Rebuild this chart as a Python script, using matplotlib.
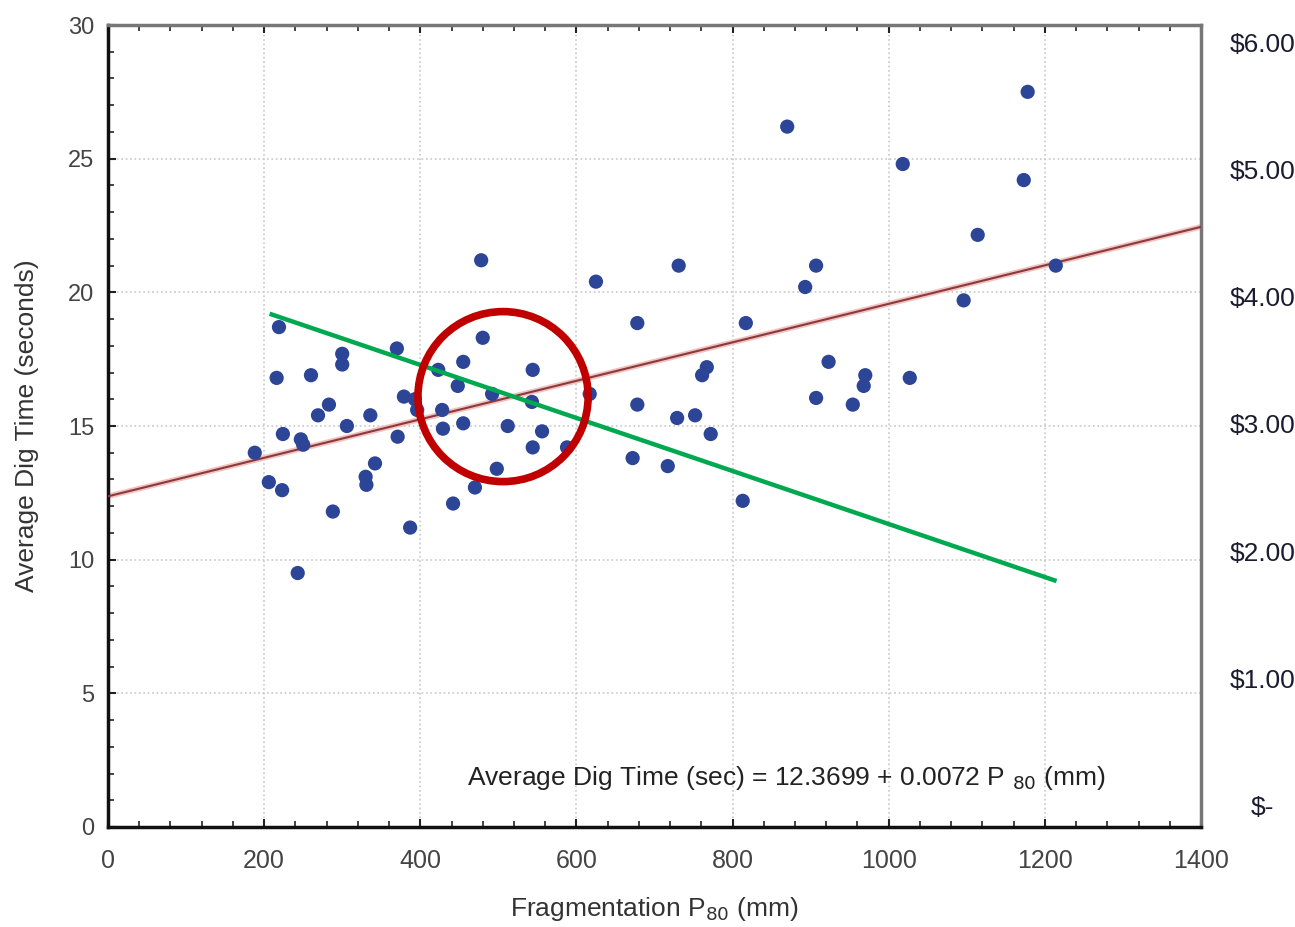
import matplotlib.pyplot as plt
from matplotlib.patches import Ellipse
from matplotlib.ticker import MultipleLocator
from matplotlib.transforms import blended_transform_factory

# scatter data: P80 (mm) vs average dig time (s)
p80 = [188, 206, 223, 219, 216, 224, 243, 247, 250, 260,
       269, 283, 288, 300, 300, 306, 330, 331, 336, 342,
       370, 371, 379, 393, 396, 387, 423, 428, 429, 442,
       448, 455, 455, 470, 478, 480, 492, 498, 512, 544,
       543, 556, 544, 588, 617, 625, 678, 678, 672, 717,
       731, 729, 752, 761, 767, 772, 813, 817, 870, 893,
       907, 907, 923, 954, 968, 970, 1027, 1018, 1096, 1114,
       1173, 1178, 1214]
dig_time = [14.0, 12.9, 12.6, 18.7, 16.8, 14.7, 9.5, 14.5, 14.3, 16.9,
            15.4, 15.8, 11.8, 17.7, 17.3, 15.0, 13.1, 12.8, 15.4, 13.6,
            17.9, 14.6, 16.1, 16.0, 15.6, 11.2, 17.1, 15.6, 14.9, 12.1,
            16.5, 17.4, 15.1, 12.7, 21.2, 18.3, 16.2, 13.4, 15.0, 17.1,
            15.9, 14.8, 14.2, 14.2, 16.2, 20.4, 18.85, 15.8, 13.8, 13.5,
            21.0, 15.3, 15.4, 16.9, 17.2, 14.7, 12.2, 18.85, 26.2, 20.2,
            21.0, 16.05, 17.4, 15.8, 16.5, 16.9, 16.8, 24.8, 19.7, 22.15,
            24.2, 27.5, 21.0]

# fitted line
intercept = 12.3699
slope = 0.0072
fit_x = [0, 1400]

# green cost line (hand drawn on the original)
green_x = [207, 1215]
green_y = [19.2, 9.2]

# red circle highlight
circle_xy = (506, 16.1)
circle_w = 218
circle_h = 6.36

x_ticks = [0, 200, 400, 600, 800, 1000, 1200, 1400]
x_labels = ['0', '200', '400', '600', '800', '1000', '1200', '1400']
y_ticks = [0, 5, 10, 15, 20, 25, 30]
cost_ticks = [0, 1, 2, 3, 4, 5, 6]
cost_labels = ['$-', '$1.00', '$2.00', '$3.00', '$4.00', '$5.00', '$6.00']

plt.rcParams['font.family'] = ['Liberation Sans', 'DejaVu Sans']

fig = plt.figure(figsize=(12.95, 9.27), dpi=100)
ax = fig.add_axes([0.0834, 0.1079, 0.8440, 0.8651])

ax.set_xlim(0, 1400)
ax.set_ylim(0, 30)
ax.grid(True, which='major', color='#c8c8c8', linestyle=':', linewidth=1.2)
ax.set_axisbelow(True)

fit_y = [intercept + slope * v for v in fit_x]
ax.plot(fit_x, fit_y, color='#f2c2c2', linewidth=4, zorder=2)
ax.plot(fit_x, fit_y, color='#8b3a3a', linewidth=1.5, zorder=3)

ax.scatter(p80, dig_time, s=105, color='#2c4596', edgecolors='none', zorder=4)

ax.plot(green_x, green_y, color='#00a84f', linewidth=3.2,
        solid_capstyle='butt', zorder=5)
ax.add_patch(Ellipse(circle_xy, circle_w, circle_h, fill=False,
                     edgecolor='#c00000', linewidth=5.5, zorder=6))

ax.text(460, 1.85, 'Average Dig Time (sec) = 12.3699 + 0.0072 P $_{80}$ (mm)',
        fontsize=19, color='#222222', va='center', ha='left')

ax.set_xticks(x_ticks)
ax.set_xticklabels(x_labels)
ax.set_yticks(y_ticks)
ax.xaxis.set_minor_locator(MultipleLocator(40))
ax.yaxis.set_minor_locator(MultipleLocator(1))
ax.tick_params(axis='both', which='both', direction='in', top=True, right=True,
               colors='#222222', labelcolor='#444444')
ax.tick_params(axis='both', which='major', length=6, width=1.5)
ax.tick_params(axis='both', which='minor', length=4, width=1.2)
ax.tick_params(axis='x', labelsize=18, pad=16)
ax.tick_params(axis='y', labelsize=17, pad=10)

for side in ['left', 'bottom']:
    ax.spines[side].set_color('#111111')
    ax.spines[side].set_linewidth(2.5)
for side in ['top', 'right']:
    ax.spines[side].set_color('#777777')
    ax.spines[side].set_linewidth(2.5)

ax.set_xlabel('Fragmentation P$_{80}$ (mm)', fontsize=19, color='#333333',
              labelpad=16)
ax.set_ylabel('Average Dig Time (seconds)', fontsize=19, color='#333333',
              labelpad=21)

# right hand cost axis, pasted in from a spreadsheet in the original
ax2 = ax.twinx()
ax2.set_ylim(-0.15, 6.155)
ax2.set_yticks([])
for side in ['left', 'right', 'top', 'bottom']:
    ax2.spines[side].set_visible(False)
trans = blended_transform_factory(ax2.transAxes, ax2.transData)
for val, lbl in zip(cost_ticks, cost_labels):
    ax2.text(1.056, val, lbl, transform=trans, ha='center', va='center',
             fontsize=19, color='#1c1c30', clip_on=False)

fig.savefig('out.png', dpi=100)
